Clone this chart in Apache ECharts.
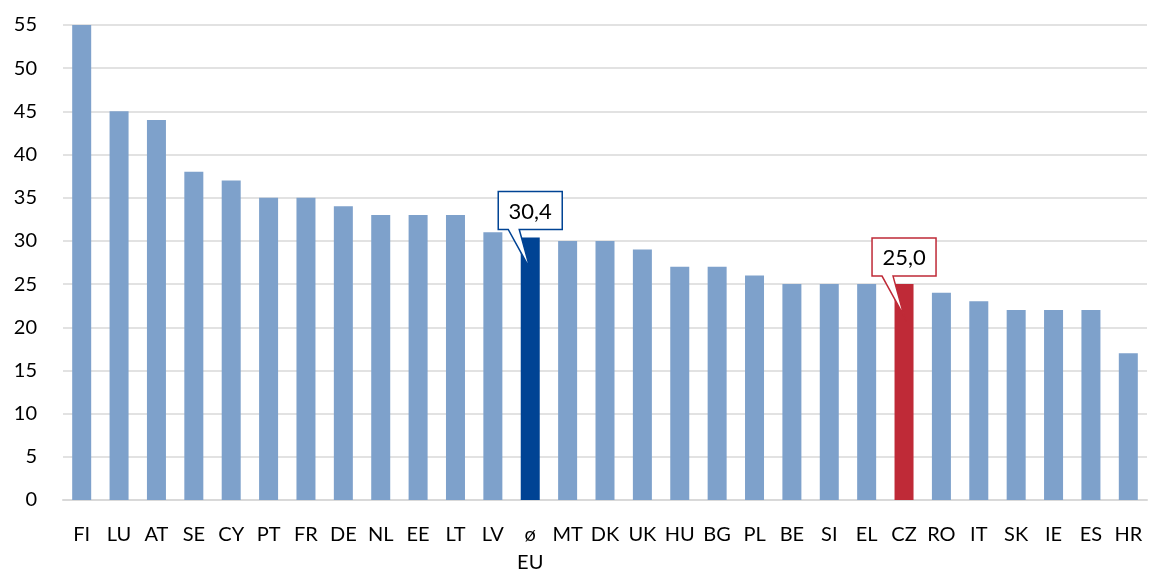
<!DOCTYPE html>
<html>
<head>
<meta charset="utf-8">
<script src="https://cdn.jsdelivr.net/npm/echarts@6/dist/echarts.min.js"></script>
<style>
html,body{margin:0;padding:0;background:#fff;}
#chart{width:1149px;height:577px;}
</style>
</head>
<body>
<div id="chart"></div>
<script>
const categories = ['FI','LU','AT','SE','CY','PT','FR','DE','NL','EE','LT','LV','ø\nEU','MT','DK','UK','HU','BG','PL','BE','SI','EL','CZ','RO','IT','SK','IE','ES','HR'];
const values = [55,45,44,38,37,35,35,34,33,33,33,31,30.4,30,30,29,27,27,26,25,25,25,25,24,23,22,22,22,17];
const yTicks = [0,5,10,15,20,25,30,35,40,45,50,55];
const highlight = {'ø\nEU': {color:'#004394', label:'30,4'}, 'CZ': {color:'#BF2A37', label:'25,0'}};

const FONT = 'Lato, "Noto Sans", sans-serif';
const baseColor = '#7EA1CB';

const chart = echarts.init(document.getElementById('chart'), null, {renderer:'canvas'});

const dataItems = values.map((v,i)=>{
  const h = highlight[categories[i]];
  return {value:v, itemStyle:{color: h ? h.color : baseColor}};
});

chart.setOption({
  animation:false,
  backgroundColor:'#ffffff',
  grid:{left:63, right:2, top:25, bottom:75, containLabel:false},
  xAxis:{
    type:'category',
    data:categories,
    boundaryGap:true,
    axisTick:{show:false},
    axisLine:{show:true, lineStyle:{color:'#D9D9D9', width:2}},
    axisLabel:{interval:0, color:'#000', fontSize:20, fontFamily:FONT, margin:21, lineHeight:28}
  },
  yAxis:{
    type:'value',
    min:yTicks[0], max:yTicks[yTicks.length-1], interval:5,
    axisLine:{show:false}, axisTick:{show:false},
    splitLine:{lineStyle:{color:'#D9D9D9', width:1.5}},
    axisLabel:{color:'#000', fontSize:20, fontFamily:FONT, margin:26}
  },
  series:[{
    type:'bar',
    data:dataItems,
    barWidth:19,
    itemStyle:{color:baseColor}
  }]
});

function callout(cat, val, color, text){
  const p = chart.convertToPixel({gridIndex:0}, [cat, val]);
  const cx = p[0], top = p[1];
  const x0 = cx - 32, y0 = top - 46, w = 64, h = 38;
  const pts = [
    [x0, y0], [x0+w, y0], [x0+w, y0+h], [x0+21, y0+h],
    [cx, top+32], [x0+10, y0+h], [x0, y0+h]
  ];
  return [
    {type:'polygon', shape:{points:pts}, style:{fill:'#fff', stroke:color, lineWidth:1.5}, z:100},
    {type:'text', x:x0+w/2, y:y0+h/2+1, style:{text:text, fill:'#000', font:'22px '+FONT, align:'center', verticalAlign:'middle'}, z:101}
  ];
}

let g = [];
categories.forEach((c,i)=>{
  const h = highlight[c];
  if(h) g = g.concat(callout(c, values[i], h.color, h.label));
});
chart.setOption({graphic:g});
</script>
</body>
</html>
